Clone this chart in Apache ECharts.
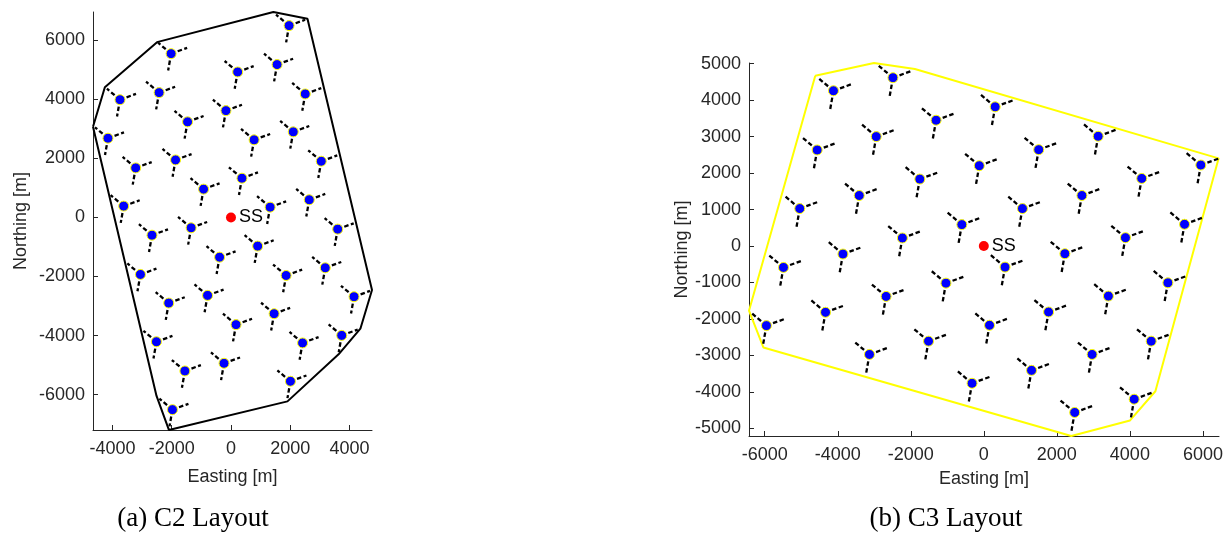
<!DOCTYPE html>
<html><head><meta charset="utf-8">
<script src="https://cdn.jsdelivr.net/npm/echarts@6/dist/echarts.min.js"></script>
<style>html,body{margin:0;padding:0;background:#fff}#c{width:1231px;height:536px}</style>
</head><body><div id="c"></div>
<script>
// ---------- data ----------
const c2Turbines = [
  [1960,6500],[-2020,5550],[225,4930],[1555,5180],[-3745,3990],[-2425,4230],[2505,4185],
  [-170,3620],[-1465,3240],[-4150,2685],[780,2630],[2100,2900],[-3215,1680],[-1870,1950],
  [3045,1905],[370,1330],[-925,960],[-3620,385],[1320,350],[2640,600],[3600,-395],
  [-2665,-600],[-1345,-350],[900,-970],[-385,-1345],[-3055,-1930],[1860,-1965],[3180,-1705],
  [-2100,-2900],[-790,-2640],[4150,-2685],[170,-3630],[1455,-3260],[-2515,-4210],[2415,-4250],
  [3735,-3995],[-1555,-5200],[-235,-4940],[2005,-5550],[-1975,-6510]
];
const c2Boundary = [
  [-4655,3075],[-4255,4410],[-2495,5940],[1430,6960],[2580,6735],[4757,-2460],
  [4365,-3768],[3630,-4636],[1905,-6230],[-2095,-7198],[-2512,-6047],[-4655,3075]
];
const c3Turbines = [
  [-4118,4257],[-2489,4615],[311,3816],[-1307,3449],[3132,3009],[-4564,2633],[-2946,3000],
  [1504,2642],[-124,2202],[5943,2220],[-1753,1835],[4325,1853],[-3412,1385],[2686,1385],
  [-5041,1027],[1058,1027],[-602,587],[5497,596],[-2230,220],[3879,229],[-3858,-220],
  [2220,-211],[-5487,-587],[581,-578],[-1037,-1018],[5041,-1009],[-2676,-1382],[3412,-1373],
  [-4335,-1818],[1774,-1809],[-5954,-2182],[156,-2173],[-1514,-2609],[4584,-2609],
  [-3132,-2973],[2966,-2973],[1307,-3409],[-322,-3764],[4118,-4200],[2489,-4564]
];
const c3Boundary = [
  [-4616,4670],[-3008,5018],[-1888,4853],[6431,2404],[4699,-3982],[4004,-4782],
  [2396,-5209],[-6037,-2782],[-6431,-1773],[-4616,4670]
];
const substation = [[0,0]];
const c2XTicks = [-4000,-2000,0,2000,4000];
const c2YTicks = [-6000,-4000,-2000,0,2000,4000,6000];
const c3XTicks = [-6000,-4000,-2000,0,2000,4000,6000];
const c3YTicks = [-5000,-4000,-3000,-2000,-1000,0,1000,2000,3000,4000,5000];
const captions = ['(a) C2 Layout','(b) C3 Layout'];
const xName = 'Easting [m]';
const yName = 'Northing [m]';
const ssName = 'SS';

// ---------- styles ----------
const AX = '#262626';
const FONT = 'Liberation Sans, Arial, Helvetica, sans-serif';
const BLADE_ANGLES = [20, 140, 260];
const BLADE_LEN_M = 575;

function bladeRender(params, api){
  const p = api.coord([api.value(0), api.value(1)]);
  const len = api.size([BLADE_LEN_M, 0])[0];
  return {
    type: 'group',
    children: BLADE_ANGLES.map(a => {
      const r = a * Math.PI / 180;
      return {type:'line', shape:{x1:p[0], y1:p[1], x2:p[0]+len*Math.cos(r), y2:p[1]-len*Math.sin(r)},
        style:{stroke:'#000', lineWidth:2.3, lineDash:[4.5,2.5], fill:null}};
    })
  };
}

const plain = v => String(v);

function xAxisCfg(idx, min, max, ticks, gap){
  return {type:'value', gridIndex:idx, min, max, name:xName, nameLocation:'middle', nameGap:gap,
    nameTextStyle:{color:AX, fontSize:18, fontFamily:FONT},
    axisLine:{show:true, onZero:false, lineStyle:{color:AX, width:1}},
    axisTick:{show:true, inside:true, length:5, customValues:ticks, lineStyle:{color:AX}},
    axisLabel:{show:true, customValues:ticks, formatter:plain, margin:10, color:AX, fontSize:18, fontFamily:FONT},
    splitLine:{show:false}};
}
function yAxisCfg(idx, min, max, ticks, gap){
  return {type:'value', gridIndex:idx, min, max, name:yName, nameLocation:'middle', nameGap:gap, nameRotate:90,
    nameTextStyle:{color:AX, fontSize:18, fontFamily:FONT},
    axisLine:{show:true, onZero:false, lineStyle:{color:AX, width:1}},
    axisTick:{show:true, inside:true, length:5, customValues:ticks, lineStyle:{color:AX}},
    axisLabel:{show:true, customValues:ticks, formatter:plain, margin:8, color:AX, fontSize:18, fontFamily:FONT},
    splitLine:{show:false}};
}

function layoutSeries(idx, turbines, boundary, bColor){
  return [
    {type:'line', xAxisIndex:idx, yAxisIndex:idx, data:boundary, symbol:'none', silent:true,
      lineStyle:{color:bColor, width:2}, z:2},
    {type:'custom', xAxisIndex:idx, yAxisIndex:idx, data:turbines, renderItem:bladeRender, clip:false, silent:true, z:3},
    {type:'scatter', xAxisIndex:idx, yAxisIndex:idx, data:turbines, symbolSize:10, silent:true,
      itemStyle:{color:'#0000FF', borderColor:'#FFFF00', borderWidth:1, opacity:1}, z:4},
    {type:'scatter', xAxisIndex:idx, yAxisIndex:idx, data:substation, symbolSize:10, silent:true,
      itemStyle:{color:'#FF0000', opacity:1}, z:5,
      label:{show:true, position:'right', distance:3, formatter:ssName, color:'#000', fontSize:18, fontFamily:FONT}}
  ];
}

const chart = echarts.init(document.getElementById('c'), null, {renderer:'canvas'});
chart.setOption({
  animation:false,
  backgroundColor:'#fff',
  grid:[
    {left:93, top:12, width:279, height:418, containLabel:false},
    {left:749, top:63, width:470, height:373, containLabel:false}
  ],
  xAxis:[
    xAxisCfg(0, -4655, 4757, c2XTicks, 38),
    xAxisCfg(1, -6431, 6441, c3XTicks, 34)
  ],
  yAxis:[
    yAxisCfg(0, -7200, 6961, c2YTicks, 63),
    yAxisCfg(1, -5209, 5018, c3YTicks, 57)
  ],
  graphic:[
    {type:'text', x:193, y:519, style:{text:captions[0], fill:'#000', font:'27px "Liberation Serif", "DejaVu Serif", serif', textAlign:'center', textVerticalAlign:'middle'}},
    {type:'text', x:946, y:519, style:{text:captions[1], fill:'#000', font:'27px "Liberation Serif", "DejaVu Serif", serif', textAlign:'center', textVerticalAlign:'middle'}}
  ],
  series:[
    ...layoutSeries(0, c2Turbines, c2Boundary, '#000000'),
    ...layoutSeries(1, c3Turbines, c3Boundary, '#FFFF00')
  ]
});
</script></body></html>
